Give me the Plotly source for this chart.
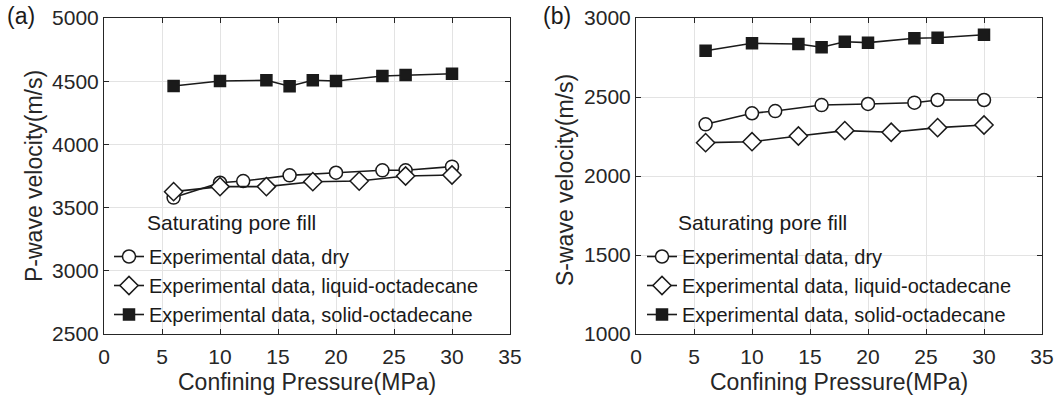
import plotly.graph_objects as go

# ---- data ----
p_solid_x = [6, 10, 14, 16, 18, 20, 24, 26, 30]
p_dry_x = [6, 10, 12, 16, 20, 24, 26, 30]
p_liq_x = [6, 10, 14, 18, 22, 26, 30]

vp_solid = [4462, 4502, 4507, 4460, 4507, 4502, 4541, 4549, 4559]
vp_dry = [3579, 3697, 3710, 3755, 3776, 3795, 3795, 3824]
vp_liq = [3626, 3666, 3666, 3705, 3710, 3750, 3758]

vs_solid = [2793, 2840, 2835, 2815, 2850, 2844, 2872, 2875, 2894]
vs_dry = [2327, 2397, 2411, 2449, 2456, 2464, 2481, 2481]
vs_liq = [2211, 2217, 2253, 2287, 2277, 2306, 2323]

names = ["Experimental data, dry",
         "Experimental data, liquid-octadecane",
         "Experimental data, solid-octadecane"]

x_title = "Confining Pressure(MPa)"
y_titles = ["P-wave velocity(m/s)", "S-wave velocity(m/s)"]

FONT = "Liberation Sans, Arial, Helvetica, sans-serif"
TXT = "#262626"
GRID = "#e3e3e3"

fig = go.Figure()

def add_series(xa, ya, leg, xs, ys, sym, size, fill, name):
    fig.add_trace(go.Scatter(
        x=xs, y=ys, mode="lines+markers", name=name,
        xaxis=xa, yaxis=ya, legend=leg,
        line=dict(color="#1a1a1a", width=1.6),
        marker=dict(symbol=sym, size=size, color=fill,
                    line=dict(color="#1a1a1a", width=1.5)),
    ))

# left panel
add_series("x", "y", "legend", p_dry_x, vp_dry, "circle", 13, "white", names[0])
add_series("x", "y", "legend", p_liq_x, vp_liq, "diamond", 14, "white", names[1])
add_series("x", "y", "legend", p_solid_x, vp_solid, "square", 11, "#1a1a1a", names[2])
# right panel
add_series("x2", "y2", "legend2", p_dry_x, vs_dry, "circle", 13, "white", names[0])
add_series("x2", "y2", "legend2", p_liq_x, vs_liq, "diamond", 14, "white", names[1])
add_series("x2", "y2", "legend2", p_solid_x, vs_solid, "square", 11, "#1a1a1a", names[2])

W, H = 1055, 397
def px(x): return x / W
def py(y): return 1 - y / H

axis_common = dict(
    showline=True, linecolor=TXT, linewidth=1, mirror="ticks",
    ticks="inside", ticklen=5, tickcolor=TXT, automargin=False,
    showgrid=True, gridcolor=GRID, gridwidth=1, zeroline=False,
    tickfont=dict(family=FONT, size=21, color=TXT),
)
xaxis_common = dict(axis_common, ticklabelstandoff=4)

def ann(text, x, y, size, xanchor="center", angle=0, color=TXT):
    return dict(text=text, x=px(x), y=py(y), xref="paper", yref="paper",
                showarrow=False, xanchor=xanchor, yanchor="middle", textangle=angle,
                font=dict(family=FONT, size=size, color=color))

fig.update_layout(
    width=W, height=H,
    margin=dict(l=0, r=0, t=0, b=0),
    paper_bgcolor="white", plot_bgcolor="white",
    font=dict(family=FONT, color=TXT),
    xaxis=dict(domain=[px(104), px(510)], range=[0, 35], dtick=5, anchor="y", **xaxis_common),
    yaxis=dict(domain=[py(334), py(18)], range=[2500, 5000], dtick=500, anchor="x", **axis_common),
    xaxis2=dict(domain=[px(636), px(1042)], range=[0, 35], dtick=5, anchor="y2", **xaxis_common),
    yaxis2=dict(domain=[py(334), py(18)], range=[1000, 3000], dtick=500, anchor="x2", **axis_common),
    legend=dict(x=px(109), y=py(334), xanchor="left", yanchor="bottom",
                bgcolor="rgba(0,0,0,0)", borderwidth=0, tracegroupgap=0,
                font=dict(family=FONT, size=20, color="#1a1a1a")),
    legend2=dict(x=px(642), y=py(334), xanchor="left", yanchor="bottom",
                 bgcolor="rgba(0,0,0,0)", borderwidth=0, tracegroupgap=0,
                 font=dict(family=FONT, size=20, color="#1a1a1a")),
    annotations=[
        ann("(a)", 21, 16, 23, color="#1a1a1a"),
        ann("(b)", 557, 16, 23, color="#1a1a1a"),
        ann("Saturating pore fill", 145, 222, 21, xanchor="left", color="#1a1a1a"),
        ann("Saturating pore fill", 676, 222, 21, xanchor="left", color="#1a1a1a"),
        ann(x_title, 307, 382, 23),
        ann(x_title, 839, 382, 23),
        ann(y_titles[0], 34, 176, 23, angle=-90),
        ann(y_titles[1], 565, 180, 23, angle=-90),
    ],
)

fig.write_html("out.html", config={"displayModeBar": False},
               post_script="document.body.style.margin='0';document.body.style.padding='0';")
